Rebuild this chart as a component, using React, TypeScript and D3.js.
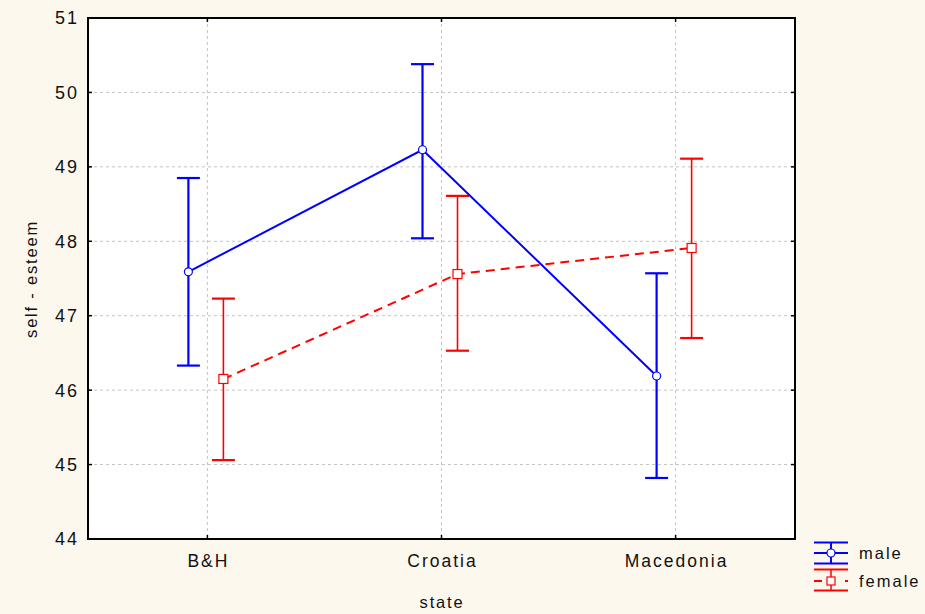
import { useEffect, useRef } from "react";
import * as d3 from "d3";

const states = ["B&H", "Croatia", "Macedonia"];
const yTicks = [44, 45, 46, 47, 48, 49, 50, 51];

// means and confidence limits
const maleMean = [47.59, 49.23, 46.19];
const maleUpper = [48.85, 50.38, 47.57];
const maleLower = [46.33, 48.04, 44.82];

const femaleMean = [46.15, 47.56, 47.91];
const femaleUpper = [47.23, 48.61, 49.11];
const femaleLower = [45.06, 46.53, 46.7];

export default function App() {
  const ref = useRef<SVGSVGElement>(null);

  useEffect(() => {
    const svg = d3.select(ref.current);
    svg.selectAll("*").remove();

    const width = 925;
    const height = 614;
    const left = 88;
    const right = 795;
    const top = 18;
    const bottom = 539;
    const font = "Liberation Sans, Arial, sans-serif";

    svg.append("rect").attr("width", width).attr("height", height).attr("fill", "#fcf8ee");
    svg
      .append("rect")
      .attr("x", left)
      .attr("y", top)
      .attr("width", right - left)
      .attr("height", bottom - top)
      .attr("fill", "#ffffff");

    const x = d3.scalePoint<string>().domain(states).range([left, right]).padding(0.51);
    const y = d3.scaleLinear().domain([44, 51]).range([bottom, top]);

    // grid
    const grid = svg.append("g").attr("stroke", "#c4c4c4").attr("stroke-dasharray", "3,3");
    yTicks.slice(1, -1).forEach((t) => {
      grid.append("line").attr("x1", left).attr("x2", right).attr("y1", y(t)).attr("y2", y(t));
    });
    states.forEach((s) => {
      grid.append("line").attr("x1", x(s)!).attr("x2", x(s)!).attr("y1", top).attr("y2", bottom);
    });

    // frame
    svg
      .append("rect")
      .attr("x", left)
      .attr("y", top)
      .attr("width", right - left)
      .attr("height", bottom - top)
      .attr("fill", "none")
      .attr("stroke", "#000")
      .attr("stroke-width", 2);

    // small inward ticks
    const ticks = svg.append("g").attr("stroke", "#000").attr("stroke-width", 1.5);
    yTicks.forEach((t) => {
      ticks.append("line").attr("x1", left).attr("x2", left + 4).attr("y1", y(t)).attr("y2", y(t));
      ticks.append("line").attr("x1", right).attr("x2", right - 4).attr("y1", y(t)).attr("y2", y(t));
    });
    states.forEach((s) => {
      ticks.append("line").attr("x1", x(s)!).attr("x2", x(s)!).attr("y1", top).attr("y2", top + 4);
      ticks.append("line").attr("x1", x(s)!).attr("x2", x(s)!).attr("y1", bottom).attr("y2", bottom - 4);
    });

    // tick labels
    yTicks.forEach((t) => {
      svg
        .append("text")
        .attr("x", 79)
        .attr("y", y(t))
        .attr("dy", "0.36em")
        .attr("text-anchor", "end")
        .attr("font-family", font)
        .attr("font-size", 18)
        .attr("letter-spacing", 2)
        .attr("fill", "#111")
        .text(t);
    });
    states.forEach((s) => {
      svg
        .append("text")
        .attr("x", x(s)! + 1)
        .attr("y", 567)
        .attr("text-anchor", "middle")
        .attr("font-family", font)
        .attr("font-size", 17.5)
        .attr("letter-spacing", 2)
        .attr("fill", "#111")
        .text(s);
    });

    svg
      .append("text")
      .attr("x", 442)
      .attr("y", 608)
      .attr("text-anchor", "middle")
      .attr("font-family", font)
      .attr("font-size", 16.5)
      .attr("letter-spacing", 1.8)
      .attr("fill", "#111")
      .text("state");
    svg
      .append("text")
      .attr("transform", "translate(37,279) rotate(-90)")
      .attr("text-anchor", "middle")
      .attr("font-family", font)
      .attr("font-size", 16.5)
      .attr("letter-spacing", 1.8)
      .attr("fill", "#111")
      .text("self - esteem");

    const cap = 11.5;

    // female series
    const fx = (i: number) => x(states[i])! + 16;
    const fData = femaleMean.map((m, i) => [fx(i), y(m)] as [number, number]);
    svg
      .append("path")
      .datum(fData)
      .attr("fill", "none")
      .attr("stroke", "#ff0000")
      .attr("stroke-width", 2)
      .attr("stroke-dasharray", "9,6")
      .attr("d", d3.line());
    femaleMean.forEach((m, i) => {
      const g = svg.append("g").attr("stroke", "#ff0000").attr("stroke-width", 2.2);
      g.append("line").attr("x1", fx(i)).attr("x2", fx(i)).attr("y1", y(femaleUpper[i])).attr("y2", y(femaleLower[i])).attr("stroke-width", 1.6);
      g.append("line").attr("x1", fx(i) - cap).attr("x2", fx(i) + cap).attr("y1", y(femaleUpper[i])).attr("y2", y(femaleUpper[i]));
      g.append("line").attr("x1", fx(i) - cap).attr("x2", fx(i) + cap).attr("y1", y(femaleLower[i])).attr("y2", y(femaleLower[i]));
      g.append("rect")
        .attr("x", fx(i) - 4.5)
        .attr("y", y(m) - 4.5)
        .attr("width", 9)
        .attr("height", 9)
        .attr("fill", "#fff")
        .attr("stroke-width", 1.2);
    });

    // male series
    const mx = (i: number) => x(states[i])! - 19;
    const mData = maleMean.map((m, i) => [mx(i), y(m)] as [number, number]);
    svg
      .append("path")
      .datum(mData)
      .attr("fill", "none")
      .attr("stroke", "#0000ff")
      .attr("stroke-width", 2)
      .attr("d", d3.line());
    maleMean.forEach((m, i) => {
      const g = svg.append("g").attr("stroke", "#0000ff").attr("stroke-width", 2.2);
      g.append("line").attr("x1", mx(i)).attr("x2", mx(i)).attr("y1", y(maleUpper[i])).attr("y2", y(maleLower[i]));
      g.append("line").attr("x1", mx(i) - cap).attr("x2", mx(i) + cap).attr("y1", y(maleUpper[i])).attr("y2", y(maleUpper[i]));
      g.append("line").attr("x1", mx(i) - cap).attr("x2", mx(i) + cap).attr("y1", y(maleLower[i])).attr("y2", y(maleLower[i]));
      g.append("circle").attr("cx", mx(i)).attr("cy", y(m)).attr("r", 4).attr("fill", "#fff").attr("stroke-width", 1.2);
    });

    // legend
    const lg = svg.append("g");
    const lx1 = 814;
    const lx2 = 848;
    const lc = 831;
    const male = lg.append("g").attr("stroke", "#0000ff").attr("stroke-width", 2);
    [542.5, 553, 563.5].forEach((yy) => male.append("line").attr("x1", lx1).attr("x2", lx2).attr("y1", yy).attr("y2", yy));
    male.append("line").attr("x1", lc).attr("x2", lc).attr("y1", 542.5).attr("y2", 563.5);
    male.append("circle").attr("cx", lc).attr("cy", 553).attr("r", 4).attr("fill", "#fff").attr("stroke-width", 1.2);

    const fem = lg.append("g").attr("stroke", "#ff0000").attr("stroke-width", 2);
    [569.5, 590.5].forEach((yy) => fem.append("line").attr("x1", lx1).attr("x2", lx2).attr("y1", yy).attr("y2", yy));
    fem.append("line").attr("x1", lx1).attr("x2", lx2).attr("y1", 581).attr("y2", 581).attr("stroke-dasharray", "8,23,3");
    fem.append("line").attr("x1", lc).attr("x2", lc).attr("y1", 569.5).attr("y2", 590.5).attr("stroke-width", 1.5);
    fem.append("rect").attr("x", lc - 4).attr("y", 577).attr("width", 8).attr("height", 8).attr("fill", "#fff").attr("stroke-width", 1.2);

    [["male", 553], ["female", 581]].forEach(([t, yy]) => {
      lg.append("text")
        .attr("x", 859)
        .attr("y", yy as number)
        .attr("dy", "0.36em")
        .attr("font-family", font)
        .attr("font-size", 16.5)
        .attr("letter-spacing", 2)
        .attr("fill", "#111")
        .text(t as string);
    });
  }, []);

  return (
    <svg
      ref={ref}
      width={925}
      height={614}
      style={{ position: "absolute", left: 0, top: 0, display: "block" }}
    ></svg>
  );
}
